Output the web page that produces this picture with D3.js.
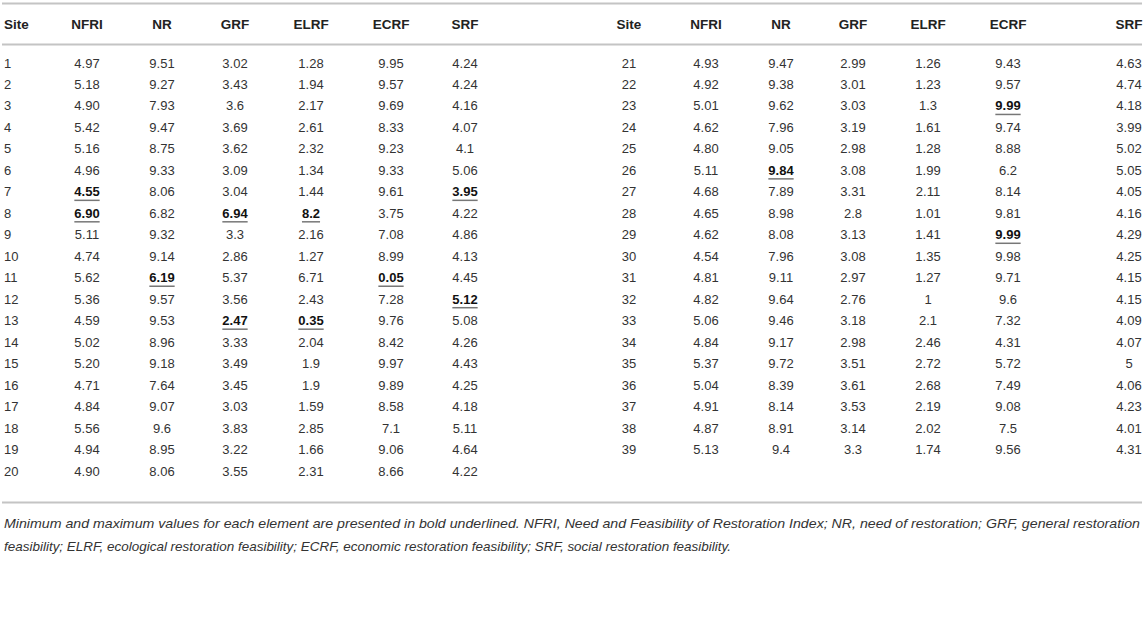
<!DOCTYPE html>
<html>
<head>
<meta charset="utf-8">
<script src="https://cdn.jsdelivr.net/npm/d3@7"></script>
<style>
body{margin:0;background:#fff}
svg text{font-family:"Liberation Sans",Arial,sans-serif}
</style>
</head>
<body>
<div id="chart"></div>
<script>
const columns = ["Site","NFRI","NR","GRF","ELRF","ECRF","SRF"]

const sites = d3.range(1,40).map(String)
const nfri = ["4.97","5.18","4.90","5.42","5.16","4.96","4.55","6.90","5.11","4.74","5.62","5.36","4.59","5.02","5.20","4.71","4.84","5.56","4.94","4.90",
	"4.93","4.92","5.01","4.62","4.80","5.11","4.68","4.65","4.62","4.54","4.81","4.82","5.06","4.84","5.37","5.04","4.91","4.87","5.13"]
const nr = ["9.51","9.27","7.93","9.47","8.75","9.33","8.06","6.82","9.32","9.14","6.19","9.57","9.53","8.96","9.18","7.64","9.07","9.6","8.95","8.06",
	"9.47","9.38","9.62","7.96","9.05","9.84","7.89","8.98","8.08","7.96","9.11","9.64","9.46","9.17","9.72","8.39","8.14","8.91","9.4"]
const grf = ["3.02","3.43","3.6","3.69","3.62","3.09","3.04","6.94","3.3","2.86","5.37","3.56","2.47","3.33","3.49","3.45","3.03","3.83","3.22","3.55",
	"2.99","3.01","3.03","3.19","2.98","3.08","3.31","2.8","3.13","3.08","2.97","2.76","3.18","2.98","3.51","3.61","3.53","3.14","3.3"]
const elrf = ["1.28","1.94","2.17","2.61","2.32","1.34","1.44","8.2","2.16","1.27","6.71","2.43","0.35","2.04","1.9","1.9","1.59","2.85","1.66","2.31",
	"1.26","1.23","1.3","1.61","1.28","1.99","2.11","1.01","1.41","1.35","1.27","1","2.1","2.46","2.72","2.68","2.19","2.02","1.74"]
const ecrf = ["9.95","9.57","9.69","8.33","9.23","9.33","9.61","3.75","7.08","8.99","0.05","7.28","9.76","8.42","9.97","9.89","8.58","7.1","9.06","8.66",
	"9.43","9.57","9.99","9.74","8.88","6.2","8.14","9.81","9.99","9.98","9.71","9.6","7.32","4.31","5.72","7.49","9.08","7.5","9.56"]
const srf = ["4.24","4.24","4.16","4.07","4.1","5.06","3.95","4.22","4.86","4.13","4.45","5.12","5.08","4.26","4.43","4.25","4.18","5.11","4.64","4.22",
	"4.63","4.74","4.18","3.99","5.02","5.05","4.05","4.16","4.29","4.25","4.15","4.15","4.09","4.07","5","4.06","4.23","4.01","4.31"]

// min / max cells marked bold underlined (by site)
const boldCells = {NFRI:["7","8"], NR:["11","26"], GRF:["8","13"], ELRF:["8","13"], ECRF:["11","23","29"], SRF:["7","12"]}

const caption = [
	"Minimum and maximum values for each element are presented in bold underlined. NFRI, Need and Feasibility of Restoration Index; NR, need of restoration; GRF, general restoration",
	"feasibility; ELRF, ecological restoration feasibility; ECRF, economic restoration feasibility; SRF, social restoration feasibility."
]

const rows = sites.map((s,i)=>({Site:s, NFRI:nfri[i], NR:nr[i], GRF:grf[i], ELRF:elrf[i], ECRF:ecrf[i], SRF:srf[i]}))
const halves = [rows.slice(0,20), rows.slice(20)]

const W = 1145, H = 639
const svg = d3.select("#chart").append("svg").attr("width",W).attr("height",H)

const xLeft = d3.scaleOrdinal().domain(columns).range([4,87,162,235,311,391,465])
const xRight = d3.scaleOrdinal().domain(columns).range([629,706,781,853,928,1008,1129])
const xs = [xLeft, xRight]
const y = d3.scaleLinear().domain([0,19]).range([63,471])

// rules
svg.selectAll("line.rule").data([3.5,44.5,502.5]).enter().append("line")
	.attr("class","rule")
	.attr("x1",2).attr("x2",1142)
	.attr("y1",d=>d).attr("y2",d=>d)
	.style("stroke","#c4c4c4").style("stroke-width",2)

halves.forEach((half,h)=>{
	const x = xs[h]
	const g = svg.append("g")
	// header
	g.selectAll("text.head").data(columns).enter().append("text")
		.attr("class","head")
		.attr("x",d=>x(d))
		.attr("y",24).attr("dy","0.35em")
		.attr("text-anchor",d=>(d=="Site" && h==0) ? "start" : "middle")
		.style("font-weight","bold").style("font-size","13.5px").style("fill","#222")
		.text(d=>d)

	half.forEach((r,i)=>{
		columns.forEach(c=>{
			const bold = c!="Site" && boldCells[c].includes(r.Site)
			const t = g.append("text")
				.attr("x",x(c))
				.attr("y",y(i)).attr("dy","0.35em")
				.attr("text-anchor",(c=="Site" && h==0) ? "start" : "middle")
				.style("font-size","13px")
				.style("font-weight",bold ? "bold" : "normal")
				.style("fill",bold ? "#111" : "#333")
				.text(r[c])
			if (bold){
				const w = t.node().getComputedTextLength()
				g.append("line")
					.attr("x1",x(c)-w/2).attr("x2",x(c)+w/2)
					.attr("y1",y(i)+8.5).attr("y2",y(i)+8.5)
					.style("stroke","#777").style("stroke-width",1.5)
			}
		})
	})
})

svg.selectAll("text.cap").data(caption).enter().append("text")
	.attr("class","cap")
	.attr("x",4)
	.attr("y",(d,i)=>523+i*23).attr("dy","0.35em")
	.attr("textLength",(d,i)=>i==0 ? 1136 : 727)
	.attr("lengthAdjust","spacingAndGlyphs")
	.style("font-size","13.5px").style("font-style","italic").style("fill","#333")
	.text(d=>d)
</script>
</body>
</html>
